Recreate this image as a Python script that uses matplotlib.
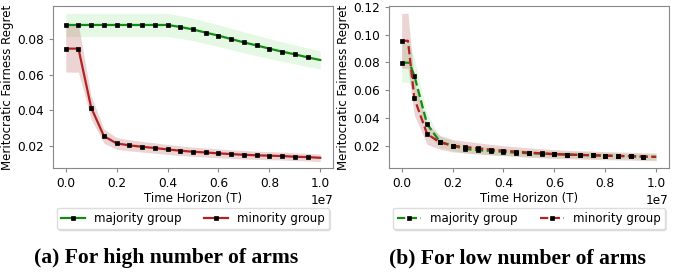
import matplotlib.pyplot as plt
import numpy as np

# eixo x (em unidades de 1e7)
x_alto = [0.0, 0.05, 0.1, 0.15, 0.2, 0.25, 0.3, 0.35, 0.4, 0.45, 0.5,
          0.55, 0.6, 0.65, 0.7, 0.75, 0.8, 0.85, 0.9, 0.95, 1.0]

# (a) muitos braços
maj_alto = [0.0879, 0.0879, 0.0879, 0.0879, 0.0879, 0.0879, 0.0879, 0.0879, 0.0879,
            0.0868, 0.0854, 0.0836, 0.0819, 0.0800, 0.0781, 0.0764, 0.0746, 0.0729,
            0.0714, 0.0697, 0.0682]
maj_alto_std = [0.0065, 0.0065, 0.0065, 0.0065, 0.0065, 0.0065, 0.0065, 0.0065, 0.0065,
                0.0064, 0.0063, 0.0062, 0.0061, 0.0060, 0.0059, 0.0058, 0.0056, 0.0055,
                0.0054, 0.0052, 0.0051]
min_alto = [0.0746, 0.0746, 0.0414, 0.0254, 0.0213, 0.0202, 0.0194, 0.0187, 0.0179,
            0.0172, 0.0166, 0.0162, 0.0157, 0.0153, 0.0149, 0.0146, 0.0144, 0.0142,
            0.0138, 0.0136, 0.0132]
min_alto_std = [0.0132, 0.0132, 0.0065, 0.0040, 0.0033, 0.0031, 0.0030, 0.0029, 0.0028,
                0.0027, 0.0026, 0.0026, 0.0025, 0.0024, 0.0024, 0.0023, 0.0023, 0.0022,
                0.0022, 0.0021, 0.0021]

# (b) poucos braços
x_maj_baixo = [0.0, 0.03, 0.05, 0.1, 0.15, 0.2, 0.25, 0.3, 0.35, 0.4, 0.45, 0.5,
               0.55, 0.6, 0.65, 0.7, 0.75, 0.8, 0.85, 0.9, 0.95, 1.0]
maj_baixo = [0.0797, 0.0797, 0.0704, 0.0356, 0.0229, 0.0200, 0.0176, 0.0167, 0.0162,
             0.0155, 0.0150, 0.0145, 0.0143, 0.0138, 0.0136, 0.0133, 0.0131, 0.0128,
             0.0126, 0.0124, 0.0121, 0.0119]
maj_baixo_std = [0.0141, 0.0141, 0.0120, 0.0070, 0.0040, 0.0034, 0.0030, 0.0028, 0.0027,
                 0.0026, 0.0025, 0.0024, 0.0024, 0.0023, 0.0023, 0.0022, 0.0022, 0.0021,
                 0.0021, 0.0020, 0.0020, 0.0020]
x_min_baixo = [0.0, 0.025, 0.05, 0.1, 0.15, 0.2, 0.25, 0.3, 0.35, 0.4, 0.45, 0.5,
               0.55, 0.6, 0.65, 0.7, 0.75, 0.8, 0.85, 0.9, 0.95, 1.0]
min_baixo = [0.0955, 0.0955, 0.0540, 0.0284, 0.0224, 0.0200, 0.0190, 0.0181, 0.0171,
             0.0164, 0.0157, 0.0150, 0.0145, 0.0140, 0.0136, 0.0133, 0.0131, 0.0128,
             0.0126, 0.0124, 0.0121, 0.0119]
min_baixo_std = [0.0198, 0.0198, 0.0120, 0.0075, 0.0050, 0.0045, 0.0042, 0.0040, 0.0038,
                 0.0036, 0.0035, 0.0034, 0.0033, 0.0032, 0.0031, 0.0030, 0.0030, 0.0029,
                 0.0029, 0.0028, 0.0028, 0.0028]

verde = "#138a13"
vermelho = "#b02323"


def curva(ax, x, y, s, cor, banda, alfa, ls, label, marcas):
    x = np.array(x) * 1e7
    y = np.array(y)
    s = np.array(s)
    ax.fill_between(x, y - s, y + s, color=banda, alpha=alfa, linewidth=0)
    ax.plot(x, y, color=cor, ls=ls, lw=1.6, marker="s", ms=2.2, mew=0.5, mfc="black",
            mec="black", markevery=marcas, label=label)


def estilo(ax, ylim, yticks):
    ax.set_xlim(-0.05e7, 1.05e7)
    ax.set_ylim(*ylim)
    ax.set_yticks(yticks)
    ax.set_xticks([0, 0.2e7, 0.4e7, 0.6e7, 0.8e7, 1.0e7])
    ax.tick_params(labelsize=8.7, length=3, color="#888888")
    ax.xaxis.get_offset_text().set_fontsize(8.7)
    for sp in ax.spines.values():
        sp.set_color("#888888")
    ax.set_xlabel("Time Horizon (T)", fontsize=8.5, labelpad=1)
    ax.set_ylabel("Meritocratic Fairness Regret", fontsize=8.5, labelpad=2)
    ax.legend(loc="center", bbox_to_anchor=(0.5, -0.31), ncol=2, fontsize=8.5,
              shadow={"ox": 1, "oy": -1, "alpha": 0.12}, columnspacing=1.9,
              handlelength=2.0, borderpad=0.35, edgecolor="#dddddd", framealpha=1)


fig = plt.figure(figsize=(6.92, 2.75), dpi=100)
ax1 = fig.add_axes([0.0766, 0.388, 0.4046, 0.591])
ax2 = fig.add_axes([0.562, 0.388, 0.4046, 0.591])

curva(ax1, x_alto, maj_alto, maj_alto_std, verde, "limegreen", 0.13, "-",
      "majority group", list(range(20)))
curva(ax1, x_alto, min_alto, min_alto_std, vermelho, "brown", 0.2, "-",
      "minority group", list(range(20)))
estilo(ax1, (0.0073, 0.0987), [0.02, 0.04, 0.06, 0.08])

marcas_b = [0] + list(range(2, 21))
curva(ax2, x_maj_baixo, maj_baixo, maj_baixo_std, verde, "limegreen", 0.13, "--",
      "majority group", marcas_b)
curva(ax2, x_min_baixo, min_baixo, min_baixo_std, vermelho, "brown", 0.2, "--",
      "minority group", marcas_b)
estilo(ax2, (0.0037, 0.1207), [0.02, 0.04, 0.06, 0.08, 0.10, 0.12])

fig.text(166 / 692, 1 - 258 / 275, "(a) For high number of arms", ha="center",
         va="center", fontsize=15.6, fontweight="bold", family="Liberation Serif")
fig.text(517 / 692, 1 - 258 / 275, "(b) For low number of arms", ha="center",
         va="center", fontsize=15.6, fontweight="bold", family="Liberation Serif")

fig.savefig("out.png", dpi=100)
